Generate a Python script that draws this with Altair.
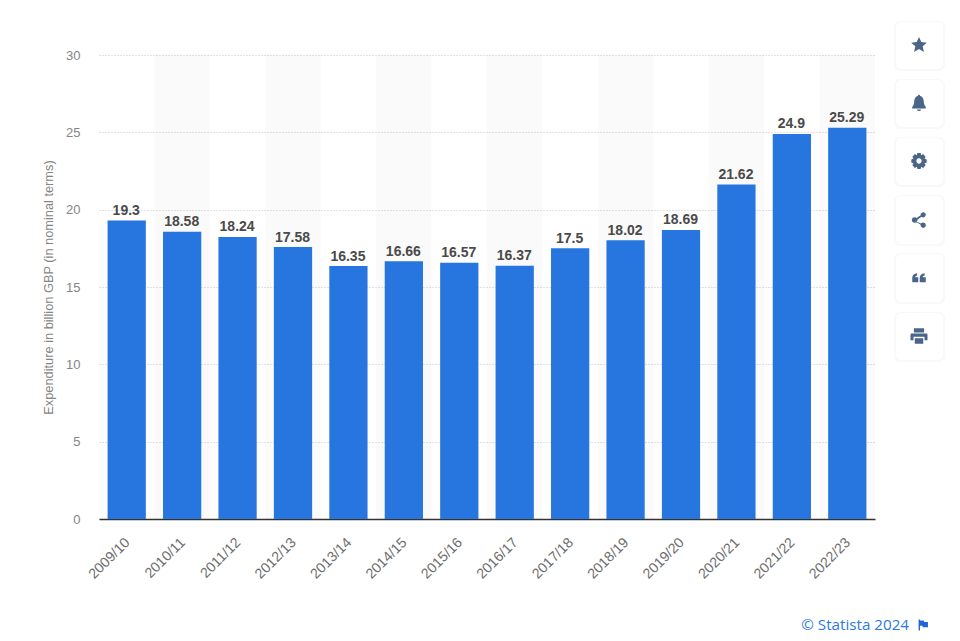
import altair as alt
import pandas as pd

years = ["2009/10","2010/11","2011/12","2012/13","2013/14","2014/15","2015/16","2016/17","2017/18","2018/19","2019/20","2020/21","2021/22","2022/23"]
values = [19.3,18.58,18.24,17.58,16.35,16.66,16.57,16.37,17.5,18.02,18.69,21.62,24.9,25.29]
labels = ["19.3","18.58","18.24","17.58","16.35","16.66","16.57","16.37","17.5","18.02","18.69","21.62","24.9","25.29"]
y_ticks = [0,5,10,15,20,25,30]
axis_title = "Expenditure in billion GBP (in nominal terms)"
credit = "© Statista 2024"

PL, PT = 91, 47
W, H = 776, 464
TOTAL_W, TOTAL_H = 944, 625
FONT = "Liberation Sans"
ox, oy = PL + 8, PT + 8  # page position of the plot origin

df = pd.DataFrame({"year": years, "value": values, "label": labels})
stripes = pd.DataFrame({"year": years[1::2]})

xs = alt.Scale(domain=years, paddingInner=0.31, paddingOuter=0.155)
ys = alt.Scale(domain=[0, 30], nice=False)

stripe = alt.Chart(stripes).mark_bar(
    width=alt.RelativeBandSize(band=1.45), color="#000000", opacity=0.02
).encode(
    x=alt.X("year:N", scale=xs, sort=years, title=None),
    y=alt.value(0), y2=alt.value(H),
)

bars = alt.Chart(df).mark_bar(color="#2775de").encode(
    x=alt.X("year:N", scale=xs, sort=years, title=None, axis=alt.Axis(
        labelAngle=-45, labelAlign="right", labelBaseline="middle", labelFont=FONT,
        labelFontSize=14.2, labelColor="#6e6e6e", labelPadding=21, labelOffset=1,
        ticks=False, domainColor="#333333", domainWidth=1.5, grid=False)),
    y=alt.Y("value:Q", scale=ys, title=axis_title, axis=alt.Axis(
        values=y_ticks, grid=True, gridColor="#c4c4c4", gridDash=[1, 2], gridWidth=1,
        domain=False, ticks=False, labelFont=FONT, labelFontSize=13, labelColor="#858585",
        labelPadding=19, titleFont=FONT, titleFontSize=12.8, titleFontWeight="normal",
        titleColor="#858585", titlePadding=10)),
)

text = alt.Chart(df).mark_text(
    font=FONT, fontSize=14, fontWeight="bold", color="#4a4a4a", baseline="bottom", dy=-2.5, dx=-0.5
).encode(
    x=alt.X("year:N", scale=xs, sort=years, title=None),
    y=alt.Y("value:Q", scale=ys),
    text="label:N",
)

def box(x0, y0, x1, y1, color, radius=0):
    return alt.Chart(pd.DataFrame({"a": [0]})).mark_rect(
        color=color, cornerRadius=radius
    ).encode(
        x=alt.value(x0 - ox), x2=alt.value(x1 - ox),
        y=alt.value(y0 - oy), y2=alt.value(y1 - oy),
    )

def icon(cx, cy, path, size=256, color="#4a6588"):
    return alt.Chart(pd.DataFrame({"a": [0]})).mark_point(
        shape=path, size=size, filled=True, color=color, opacity=1, strokeWidth=0
    ).encode(x=alt.value(cx - ox), y=alt.value(cy - oy))

STAR = "M0,-1 L0.29,-0.36 L0.98,-0.29 L0.46,0.17 L0.61,0.86 L0,0.5 L-0.61,0.86 L-0.46,0.17 L-0.98,-0.29 L-0.29,-0.36 Z"
BELL = "M-0.12,-0.9 A0.12,0.12 0 0 1 0.12,-0.9 C0.5,-0.8 0.58,-0.45 0.6,-0.1 C0.62,0.2 0.75,0.35 0.85,0.5 L0.85,0.68 L-0.85,0.68 L-0.85,0.5 C-0.75,0.35 -0.62,0.2 -0.6,-0.1 C-0.58,-0.45 -0.5,-0.8 -0.12,-0.9 Z M-0.25,0.8 L0.25,0.8 A0.25,0.2 0 0 1 -0.25,0.8 Z"
GEAR = "M-0.2,-1 L0.2,-1 L0.28,-0.72 L0.52,-0.86 L0.84,-0.5 L0.68,-0.3 L0.96,-0.2 L0.96,0.2 L0.68,0.3 L0.84,0.5 L0.52,0.86 L0.28,0.72 L0.2,1 L-0.2,1 L-0.28,0.72 L-0.52,0.86 L-0.84,0.5 L-0.68,0.3 L-0.96,0.2 L-0.96,-0.2 L-0.68,-0.3 L-0.84,-0.5 L-0.52,-0.86 L-0.28,-0.72 Z M0.33,0 A0.33,0.33 0 1 0 -0.33,0 A0.33,0.33 0 1 0 0.33,0 Z"
SHARE = "M0.85,-0.65 A0.32,0.32 0 1 1 0.2,-0.65 A0.32,0.32 0 1 1 0.85,-0.65 Z M-0.2,0 A0.35,0.35 0 1 1 -0.9,0 A0.35,0.35 0 1 1 -0.2,0 Z M0.85,0.65 A0.32,0.32 0 1 1 0.2,0.65 A0.32,0.32 0 1 1 0.85,0.65 Z M-0.5,-0.12 L0.45,-0.75 L0.55,-0.6 L-0.4,0.12 L0.55,0.6 L0.45,0.75 L-0.5,0.12 Z"
QUOTE = "M-0.9,0 C-0.9,-0.4 -0.7,-0.6 -0.25,-0.65 L-0.25,-0.35 C-0.45,-0.3 -0.5,-0.2 -0.5,-0.1 L-0.1,-0.1 L-0.1,0.55 L-0.9,0.55 Z M0.1,0 C0.1,-0.4 0.3,-0.6 0.75,-0.65 L0.75,-0.35 C0.55,-0.3 0.5,-0.2 0.5,-0.1 L0.9,-0.1 L0.9,0.55 L0.1,0.55 Z"
PRINT = "M-0.6,-0.9 L0.6,-0.9 L0.6,-0.4 L-0.6,-0.4 Z M-0.85,-0.3 L0.85,-0.3 A0.15,0.15 0 0 1 1,-0.15 L1,0.5 L0.65,0.5 L0.65,0.1 L-0.65,0.1 L-0.65,0.5 L-1,0.5 L-1,-0.15 A0.15,0.15 0 0 1 -0.85,-0.3 Z M-0.5,0.25 L0.5,0.25 L0.5,0.9 L-0.5,0.9 Z"
FLAG = "M-0.8,-1 L-0.55,-1 L-0.55,-0.8 L0.1,-0.8 L0.25,-0.55 L0.9,-0.55 L0.9,0.4 L0,0.4 L-0.15,0.15 L-0.55,0.15 L-0.55,1 L-0.8,1 Z"

chrome = []
card_rows = [(22, 69), (80, 127), (138, 185), (196, 244), (254, 302), (313, 360)]
for y0, y1 in card_rows:
    chrome.append(box(894, y0 - 1, 945, y1 + 2, "#f8f9fc", 6))
    chrome.append(box(896, y0, 943, y1, "#ffffff", 6))

icons = [
    icon(919, 45, STAR, 256),
    icon(919, 103, BELL, 256),
    icon(919, 161, GEAR, 256),
    icon(919, 220, SHARE, 256),
    icon(919, 278, QUOTE, 225),
    icon(919, 336, PRINT, 289),
    icon(923, 625, FLAG, 121, "#1f66dc"),
]

credit_text = alt.Chart(pd.DataFrame({"t": [credit]})).mark_text(
    font="Open Sans", fontSize=15.2, color="#2a78e4", align="right", baseline="middle"
).encode(x=alt.value(909 - ox), y=alt.value(625 - oy), text="t:N")

chart = alt.layer(stripe, bars, text, *chrome, *icons, credit_text).properties(
    width=W, height=H,
    autosize=alt.AutoSizeParams(type="none"),
    padding={"left": PL, "top": PT, "right": TOTAL_W - PL - W, "bottom": TOTAL_H - PT - H},
    background="#ffffff",
).configure_view(stroke=None)

chart.save("out.html", embed_options={"renderer": "svg", "actions": False})
